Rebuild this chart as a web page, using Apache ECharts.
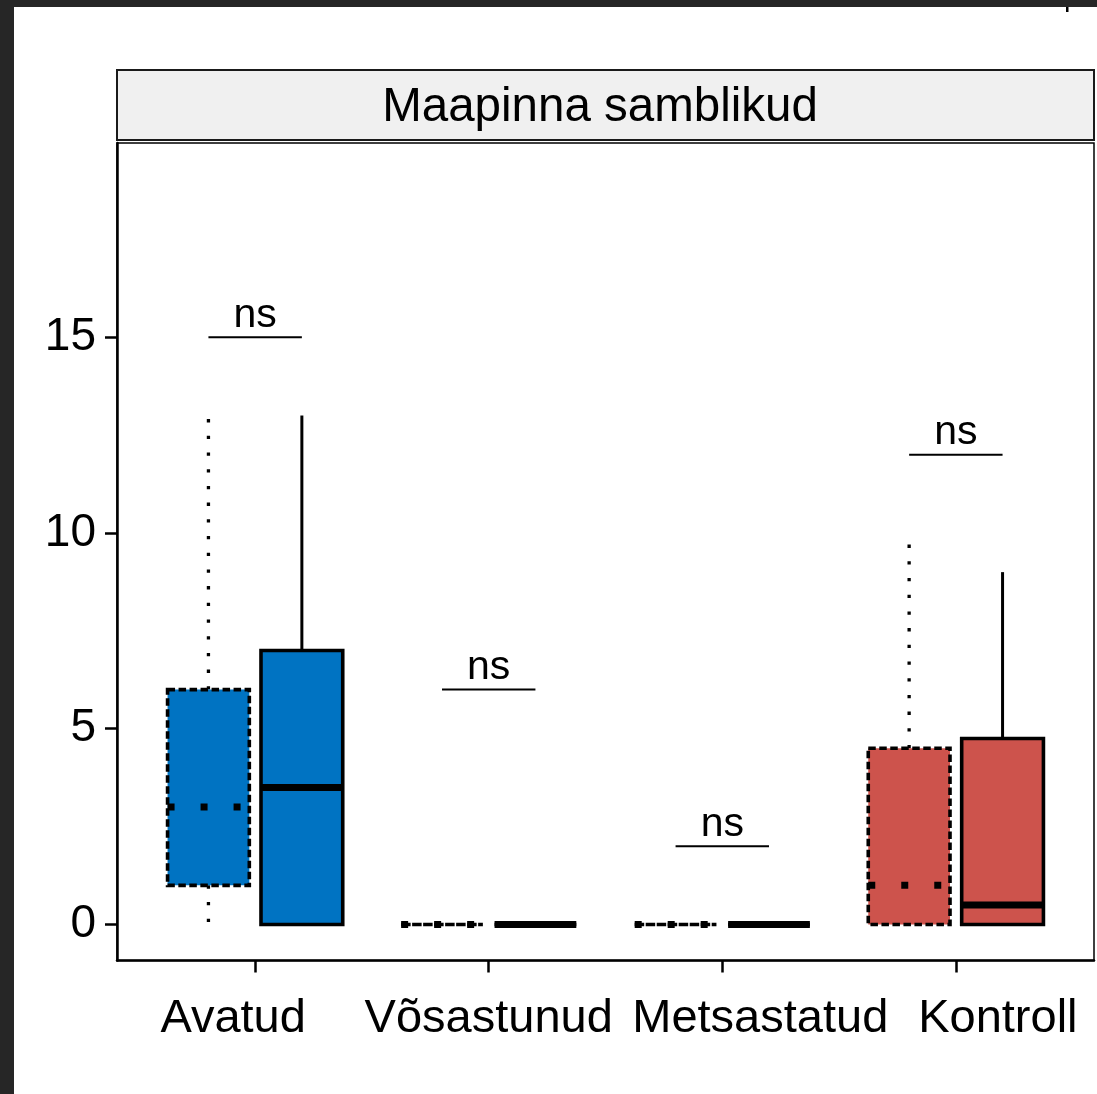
<!DOCTYPE html>
<html><head><meta charset="utf-8">
<script src="https://cdn.jsdelivr.net/npm/echarts@6/dist/echarts.min.js"></script>
<style>html,body{margin:0;padding:0;background:#fff}#c{width:1097px;height:1094px}</style>
</head><body><div id="c"></div>
<script>
const categories = ['Avatud', 'Võsastunud', 'Metsastatud', 'Kontroll'];
const yTicks = [0, 5, 10, 15];
// five-number summaries: [min, q1, median, q3, max]
const dottedStats = [[0, 1, 3, 6, 13], [0, 0, 0, 0, 0], [0, 0, 0, 0, 0], [0, 0, 1, 4.5, 10]];
const solidStats  = [[0, 0, 3.5, 7, 13], [0, 0, 0, 0, 0], [0, 0, 0, 0, 0], [0, 0, 0.5, 4.75, 9]];
const nsLevels = [15, 6, 2, 12];
const nsLabels = ['ns', 'ns', 'ns', 'ns'];
const stripTitle = 'Maapinna samblikud';
const fillColors = ['#0073C2', '#EFC000', '#868686', '#CD534C'];

const FONT = "'Liberation Sans', Arial, sans-serif";
const OFF = 0.2, HALF = 0.175;
// horizontal placement tweaks of the x labels (padding left/right in px)
const labelPad = [[0, 0, 0, 0], [0, 0, 0, 0], [0, 0, 0, 0], [0, 0, 0, 0]];
labelPad[0] = [0, 44, 0, 0];
labelPad[2] = [0, 0, 0, 76];
labelPad[3] = [0, 0, 0, 84];
const richKeys = ['a', 'b', 'c', 'd'];
const rich = {};
richKeys.forEach((k, i) => { rich[k] = { fontSize: 47, fontFamily: FONT, color: '#000', padding: labelPad[i] }; });

function boxRender(offset, dotted) {
  return function (params, api) {
    const idx = params.dataIndex;
    const x = api.value(0) + offset;
    const mn = api.value(1), q1 = api.value(2), md = api.value(3), q3 = api.value(4), mx = api.value(5);
    const tl = api.coord([x - HALF, q3]);
    const br = api.coord([x + HALF, q1]);
    const cTop = api.coord([x, q3]), cMax = api.coord([x, mx]);
    const cBot = api.coord([x, q1]), cMin = api.coord([x, mn]);
    const mL = api.coord([x - HALF, md]), mR = api.coord([x + HALF, md]);
    const whiskerStyle = dotted
      ? { stroke: '#000', lineWidth: 3.3, lineDash: [3.3, 13.4], lineCap: 'butt' }
      : { stroke: '#000', lineWidth: 3, lineCap: 'butt' };
    const rectStyle = dotted
      ? { fill: fillColors[idx], stroke: '#000', lineWidth: 3.6, lineDash: [7.5, 3.5] }
      : { fill: fillColors[idx], stroke: '#000', lineWidth: 3.6 };
    const medStyle = dotted
      ? { stroke: '#000', lineWidth: 7, lineDash: [7, 26], lineCap: 'butt' }
      : { stroke: '#000', lineWidth: 7, lineCap: 'butt' };
    return {
      type: 'group',
      children: [
        { type: 'line', shape: { x1: cTop[0], y1: cTop[1], x2: cMax[0], y2: cMax[1] }, style: whiskerStyle },
        { type: 'line', shape: { x1: cBot[0], y1: cBot[1], x2: cMin[0], y2: cMin[1] }, style: whiskerStyle },
        { type: 'rect', shape: { x: tl[0], y: tl[1], width: br[0] - tl[0], height: br[1] - tl[1] }, style: rectStyle },
        { type: 'line', shape: { x1: mL[0], y1: mL[1], x2: mR[0], y2: mR[1] }, style: medStyle }
      ]
    };
  };
}

function nsRender(params, api) {
  const x = api.value(0), v = api.value(1);
  const a = api.coord([x - OFF, v]), b = api.coord([x + OFF, v]);
  const c = api.coord([x, v]);
  return {
    type: 'group',
    children: [
      { type: 'line', shape: { x1: a[0], y1: a[1], x2: b[0], y2: b[1] }, style: { stroke: '#000', lineWidth: 2 } },
      { type: 'text', x: c[0], y: c[1] - 1, style: { text: nsLabels[params.dataIndex], font: '41px ' + FONT, fill: '#000', align: 'center', verticalAlign: 'bottom' } }
    ]
  };
}

const chart = echarts.init(document.getElementById('c'), null, { renderer: 'canvas' });
chart.setOption({
  backgroundColor: '#fff',
  animation: false,
  grid: { left: 117, right: 3, top: 143, bottom: 133.5, show: true, borderColor: '#000', borderWidth: 1.5, backgroundColor: 'transparent' },
  xAxis: {
    type: 'value', min: 0.4085, max: 4.5915,
    splitLine: { show: false },
    axisLine: { show: true, onZero: false, lineStyle: { color: '#000', width: 2.5 } },
    axisTick: { show: true, customValues: [1, 2, 3, 4], length: 12, lineStyle: { color: '#000', width: 2.5 } },
    axisLabel: {
      customValues: [1, 2, 3, 4],
      formatter: v => '{' + richKeys[v - 1] + '|' + categories[v - 1] + '}',
      rich: rich, fontSize: 47, fontFamily: FONT, color: '#000', margin: 35
    }
  },
  yAxis: {
    type: 'value', min: -0.919, max: 19.96,
    splitLine: { show: false },
    axisLine: { show: true, onZero: false, lineStyle: { color: '#000', width: 2.5 } },
    axisTick: { show: true, customValues: yTicks, length: 12, lineStyle: { color: '#000', width: 2.5 } },
    axisLabel: { customValues: yTicks, fontSize: 46, fontFamily: FONT, color: '#000', margin: 21 }
  },
  graphic: [
    { type: 'rect', shape: { x: 0, y: 0, width: 1097, height: 7 }, style: { fill: '#262626' } },
    { type: 'rect', shape: { x: 0, y: 0, width: 14, height: 1094 }, style: { fill: '#262626' } },
    { type: 'rect', shape: { x: 1066, y: 7, width: 2.5, height: 5 }, style: { fill: '#000' } },
    { type: 'rect', shape: { x: 117, y: 70, width: 977, height: 70 }, style: { fill: '#F0F0F0', stroke: '#1a1a1a', lineWidth: 2 } },
    { type: 'text', x: 600, y: 108, style: { text: stripTitle, font: '47.5px ' + FONT, fill: '#000', align: 'center', verticalAlign: 'middle' } }
  ],
  series: [
    { type: 'custom', renderItem: boxRender(-OFF, true), data: dottedStats.map((s, i) => [i + 1, ...s]), encode: { x: 0, y: [1, 2, 3, 4, 5] }, clip: false },
    { type: 'custom', renderItem: boxRender(OFF, false), data: solidStats.map((s, i) => [i + 1, ...s]), encode: { x: 0, y: [1, 2, 3, 4, 5] }, clip: false },
    { type: 'custom', renderItem: nsRender, data: nsLevels.map((v, i) => [i + 1, v]), encode: { x: 0, y: 1 }, clip: false }
  ]
});
</script>
</body></html>
